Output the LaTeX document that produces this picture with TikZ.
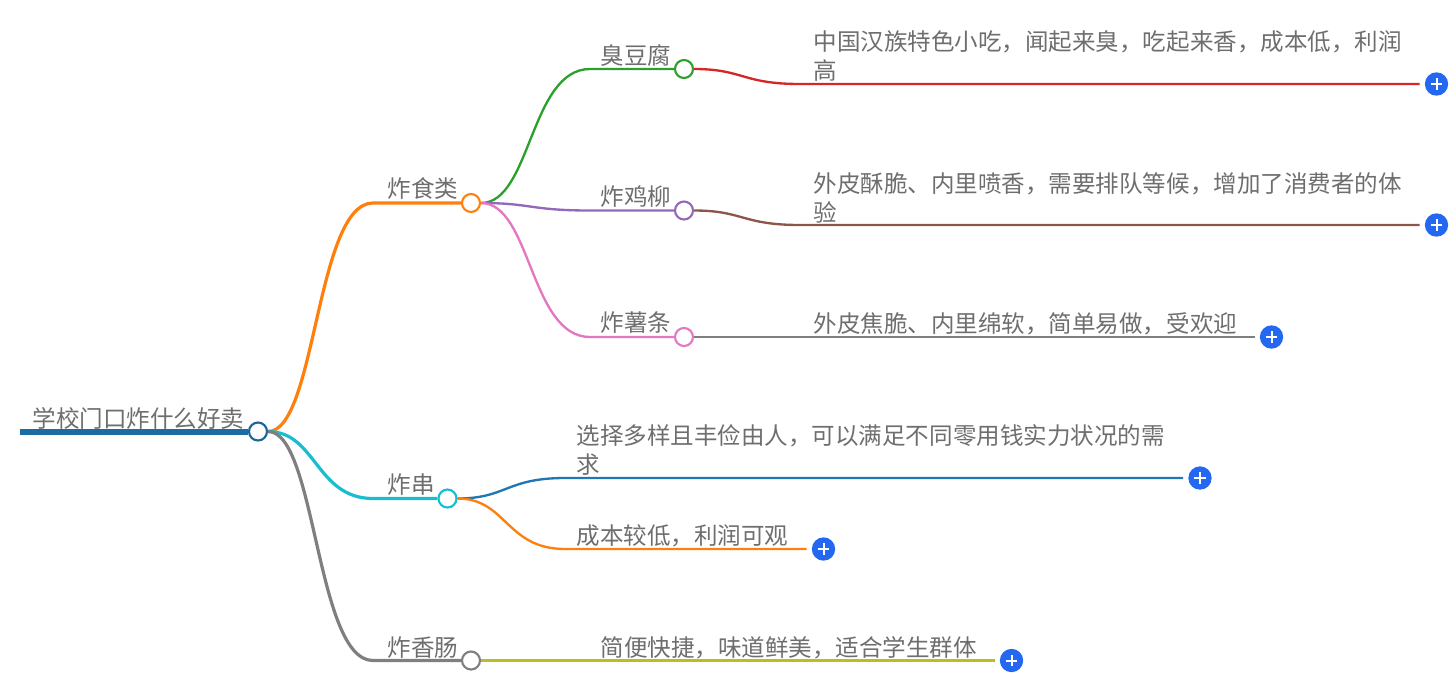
\documentclass[tikz,border=0pt]{standalone}
\usepackage{fontspec}
\setmainfont{Noto Sans CJK SC}
\definecolor{cBlue}{HTML}{1F77B4}
\definecolor{cOrange}{HTML}{FF7F0E}
\definecolor{cGreen}{HTML}{2CA02C}
\definecolor{cRed}{HTML}{D62728}
\definecolor{cPurple}{HTML}{9467BD}
\definecolor{cBrown}{HTML}{8C564B}
\definecolor{cPink}{HTML}{E377C2}
\definecolor{cGray}{HTML}{7F7F7F}
\definecolor{cOlive}{HTML}{BCBD22}
\definecolor{cCyan}{HTML}{17BECF}
\definecolor{cPlus}{HTML}{2468F2}
\definecolor{cText}{HTML}{6E6E6E}
\tikzset{
    dot/.style={circle, draw=#1, fill=white, line width=1.6pt, minimum size=13.5pt, inner sep=0pt},
    label/.style={anchor=west, inner sep=0pt, xshift=-0.6pt, yshift=-0.7pt, text=cText, font=\fontsize{17.65pt}{21.75pt}\selectfont, align=left},
    plusdot/.style={circle, fill=cPlus, minimum size=17.5pt, inner sep=0pt, outer sep=4pt,
        path picture={\draw[white, line width=1.5pt] ([xshift=-4.2pt]path picture bounding box.center)--([xshift=4.2pt]path picture bounding box.center);
        \draw[white, line width=1.5pt] ([yshift=-4.2pt]path picture bounding box.center)--([yshift=4.2pt]path picture bounding box.center);}},
    branch/.style={line width=2.4pt},
    twig/.style={line width=1.75pt}
}
\begin{document}
\begin{tikzpicture}[x=0.75pt, y=-0.75pt]
    \useasboundingbox (0,0) rectangle (1456,676);
    % Dots on the branches
    \node[dot=cBlue!85!black] (rootDot) at (258,431.5) {};
    \node[dot=cOrange] (friedDot) at (471,203) {};
    \node[dot=cCyan] (skewerDot) at (447.5,498.5) {};
    \node[dot=cGray] (sausageDot) at (471,660.5) {};
    \node[dot=cGreen] (tofuDot) at (684,69) {};
    \node[dot=cPurple] (chickenDot) at (684,210.5) {};
    \node[dot=cPink] (chipsDot) at (684,337) {};
    % Plus buttons
    \node[plusdot] (tofuPlus) at (1436.5,84) {};
    \node[plusdot] (chickenPlus) at (1436.5,225) {};
    \node[plusdot] (chipsPlus) at (1271.5,337) {};
    \node[plusdot] (choicePlus) at (1200,478) {};
    \node[plusdot] (costPlus) at (823.5,549) {};
    \node[plusdot] (sausagePlus) at (1011.5,660.5) {};
    % Bends
    \coordinate (friedBend) at (373,203);
    \coordinate (skewerBend) at (373,498.5);
    \coordinate (sausageBend) at (373,660.5);
    \coordinate (tofuBend) at (590,69);
    \coordinate (chickenBend) at (590,210.5);
    \coordinate (chipsBend) at (590,337);
    \coordinate (tofuLeaf) at (800,84);
    \coordinate (chickenLeaf) at (800,225);
    \coordinate (chipsLeaf) at (800,337);
    \coordinate (choiceLeaf) at (565,478);
    \coordinate (costLeaf) at (565,549);
    \coordinate (sausageLeaf) at (590,660.5);
    \coordinate (rootStart) at (20,431.5);
    % Main branches
    \draw[cBlue!90!black, line width=4.5pt] (rootStart)--(rootDot.west);
    \draw[cOrange, branch] (rootDot.east) .. controls +(48,0) and +(-57,0) .. (friedBend)--(friedDot.west);
    \draw[cCyan, branch] (rootDot.east) .. controls +(48,0) and +(-57,0) .. (skewerBend)--(skewerDot.west);
    \draw[cGray, branch] (rootDot.east) .. controls +(48,0) and +(-57,0) .. (sausageBend)--(sausageDot.west);
    % Second level
    \draw[cGreen, twig] (friedDot.east) .. controls +(50,0) and +(-60,0) .. (tofuBend)--(tofuDot.west);
    \draw[cPurple, twig] (friedDot.east) .. controls +(50,0) and +(-60,0) .. (chickenBend)--(chickenDot.west);
    \draw[cPink, twig] (friedDot.east) .. controls +(50,0) and +(-60,0) .. (chipsBend)--(chipsDot.west);
    % Leaves
    \draw[cRed, twig] (tofuDot.east) .. controls +(49,0) and +(-58,0) .. (tofuLeaf)--(tofuPlus.west);
    \draw[cBrown, twig] (chickenDot.east) .. controls +(49,0) and +(-58,0) .. (chickenLeaf)--(chickenPlus.west);
    \draw[cGray, twig] (chipsDot.east)--(chipsLeaf)--(chipsPlus.west);
    \draw[cBlue, twig] (skewerDot.east) .. controls +(49,0) and +(-59,0) .. (choiceLeaf)--(choicePlus.west);
    \draw[cOrange, twig] (skewerDot.east) .. controls +(49,0) and +(-59,0) .. (costLeaf)--(costPlus.west);
    \draw[cOlive, twig] (sausageDot.east)--(sausageLeaf)--(sausagePlus.west);
    % Texts
    \node[label] (rootText) at (33,418) {学校门口炸什么好卖};
    \node[label] (friedText) at (388,188) {炸食类};
    \node[label] (skewerText) at (388,484) {炸串};
    \node[label] (sausageText) at (388,647) {炸香肠};
    \node[label] (tofuText) at (601,55) {臭豆腐};
    \node[label] (chickenText) at (601,196) {炸鸡柳};
    \node[label] (chipsText) at (601,322) {炸薯条};
    \node[label] (tofuNote) at (814,55.5) {中国汉族特色小吃，闻起来臭，吃起来香，成本低，利润\\高};
    \node[label] (chickenNote) at (814,196.5) {外皮酥脆、内里喷香，需要排队等候，增加了消费者的体\\验};
    \node[label] (chipsNote) at (814,323) {外皮焦脆、内里绵软，简单易做，受欢迎};
    \node[label] (choiceNote) at (577,449.5) {选择多样且丰俭由人，可以满足不同零用钱实力状况的需\\求};
    \node[label] (costNote) at (577,535) {成本较低，利润可观};
    \node[label] (sausageNote) at (601,647) {简便快捷，味道鲜美，适合学生群体};
\end{tikzpicture}
\end{document}
